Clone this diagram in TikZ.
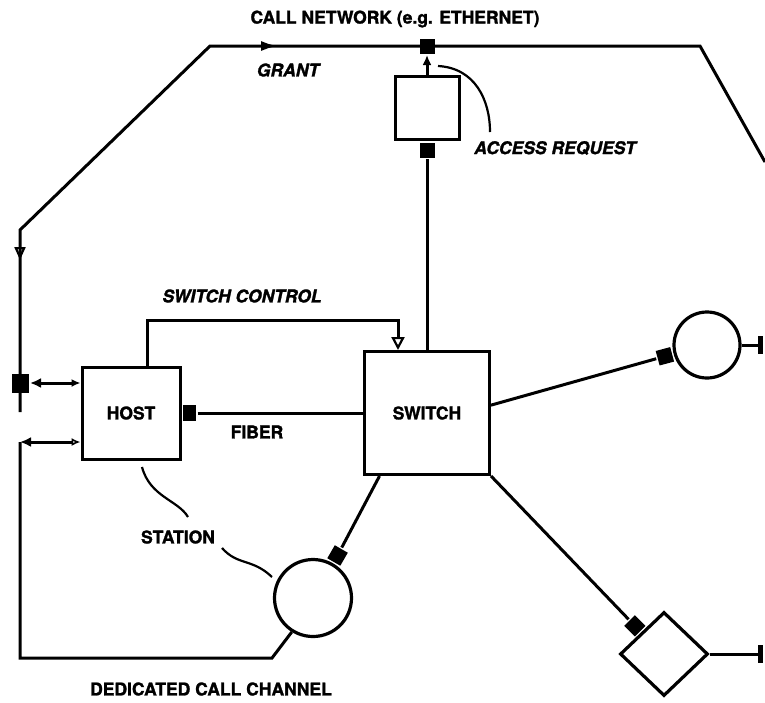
\documentclass[tikz,border=0pt]{standalone}
\usepackage{fontspec}
\setmainfont{TeX Gyre Heros}[BoldFeatures={FakeBold=1.5},BoldItalicFeatures={FakeBold=1.5}]
\usetikzlibrary{arrows.meta,positioning,shapes.geometric,decorations.markings}

\begin{document}
\begin{tikzpicture}[
        x=1pt, y=-1pt, line width=3pt,
        font=\fontsize{17.5}{19}\selectfont\bfseries,
        box/.style={rectangle, draw, inner sep=0pt},
        tap/.style={rectangle, fill=black, inner sep=0pt, minimum size=15pt},
        stn/.style={circle, draw, line width=3.2pt, inner sep=0pt, minimum size=77pt},
        lbl/.style={font=\fontsize{17.5}{19}\selectfont\bfseries\itshape},
        lead/.style={line width=2.2pt},
        arr/.style={-{Latex[length=10pt,width=9pt]}},
        oarr/.style={-{Triangle[open,length=13pt,width=13pt,line width=2.2pt]}},
        bar/.style={-{Bar[width=18pt,line width=5pt]}}
    ]
    \useasboundingbox (0,0) rectangle (765,702);

    % stations and switch
    \node[box, minimum width=125pt, minimum height=123pt] (switch) at (427,413) {SWITCH};
    \node[box, minimum width=98pt, minimum height=92pt] (host) at (131,413) {HOST};
    \node[box, minimum width=64pt, minimum height=63pt] (areq) at (427,108) {};
    \node[stn] (dcc) at (313,598) {};
    \node[stn, minimum size=66pt] (ring) at (707,345) {};
    \node[diamond, draw, line width=3.2pt, inner sep=0pt, minimum width=88pt, minimum height=84pt] (dia) at (664,654) {};

    % taps
    \node[tap] (nettap) at (427,46) {};
    \node[tap, anchor=north] (areqtap) at (areq.south) {};
    \node[tap, anchor=west, minimum width=13pt, minimum height=16pt] (hosttap) at (host.east) {};
    \node[tap, minimum width=17pt, minimum height=19pt] (lefttap) at (20,383) {};
    \node[tap, rotate=-30, anchor=south] (dcctap) at (dcc.60) {};
    \node[tap, rotate=105, anchor=south] (ringtap) at (ring.195) {};
    \node[tap, rotate=45, anchor=south] (diatap) at (dia.north west) {};

    % labels
    \node (netlbl) at (395,19) {CALL NETWORK (e.g. ETHERNET)};
    \node[lbl] (grantlbl) at (288,70) {GRANT};
    \node[lbl] (areqlbl) at (555,148) {ACCESS REQUEST};
    \node[lbl] (sctllbl) at (242,296) {SWITCH CONTROL};
    \node (fiberlbl) at (257,432) {FIBER};
    \node (stnlbl) at (178,537) {STATION};
    \node (dcclbl) at (211,689) {DEDICATED CALL CHANNEL};

    % call network
    \coordinate (nwL) at (20,412);
    \coordinate (nwA) at (20,230);
    \coordinate (nwB) at (210,46);
    \coordinate (nwC) at (700,46);
    \coordinate (nwR) at (765,162);
    \draw[line join=miter] (nwL) -- (nwA) -- (nwB) -- (nwC) -- (nwR);
    \path[decorate, decoration={markings,
        mark=at position 0.139 with {\arrow{Latex[length=17pt,width=10pt]}}}] (nwB) -- (nwC);
    \path[decorate, decoration={markings,
        mark=at position 0.165 with {\arrow{Triangle[open,length=13pt,width=11pt,line width=2.2pt]}}}] (nwA) -- (nwL);

    % access request
    \draw[arr] (areq.north) -- (nettap.south);
    \draw (areqtap.south) -- (switch.north);
    \coordinate (ar1) at (438,66);
    \coordinate (ar2) at (490,132);
    \draw[lead] (ar1) .. controls (475,68) and (490,100) .. (ar2);

    % switch control and fiber
    \coordinate (swctl) at (398,320);
    \draw[oarr] (host.71) |- (swctl) -- (swctl |- switch.north);
    \draw (hosttap.east) -- (switch.west);

    % host to call network
    \draw[{Latex[length=11pt,width=10pt]}-{Latex[length=9pt,width=8pt]}] (lefttap.east) -- (lefttap -| host.west);
    \coordinate (chL) at (20,442);
    \coordinate (chB) at (20,658);
    \coordinate (chC) at (272,658);
    \draw[{Latex[length=11pt,width=10pt]}-{Latex[open,length=9pt,width=8pt,line width=1.6pt]}] (chL) -- (chL -| host.west);
    \draw[line join=miter] (chL) -- (chB) -- (chC) -- (dcc.238);

    % switch to stations
    \draw (switch.233) -- (dcctap);
    \draw (switch.7) -- (ringtap);
    \draw (switch.south east) -- (diatap);
    \coordinate (ringend) at (763,345);
    \coordinate (diaend) at (763,654);
    \draw[bar] (ring.east) -- (ringend);
    \draw[bar] (dia.east) -- (diaend);

    % station leaders
    \coordinate (st1) at (142,467);
    \coordinate (st2) at (188,517);
    \coordinate (st3) at (222,548);
    \coordinate (st4) at (272,577);
    \draw[lead] (st1) .. controls (150,497) and (178,500) .. (st2);
    \draw[lead] (st3) .. controls (238,566) and (252,558) .. (st4);
\end{tikzpicture}
\end{document}
